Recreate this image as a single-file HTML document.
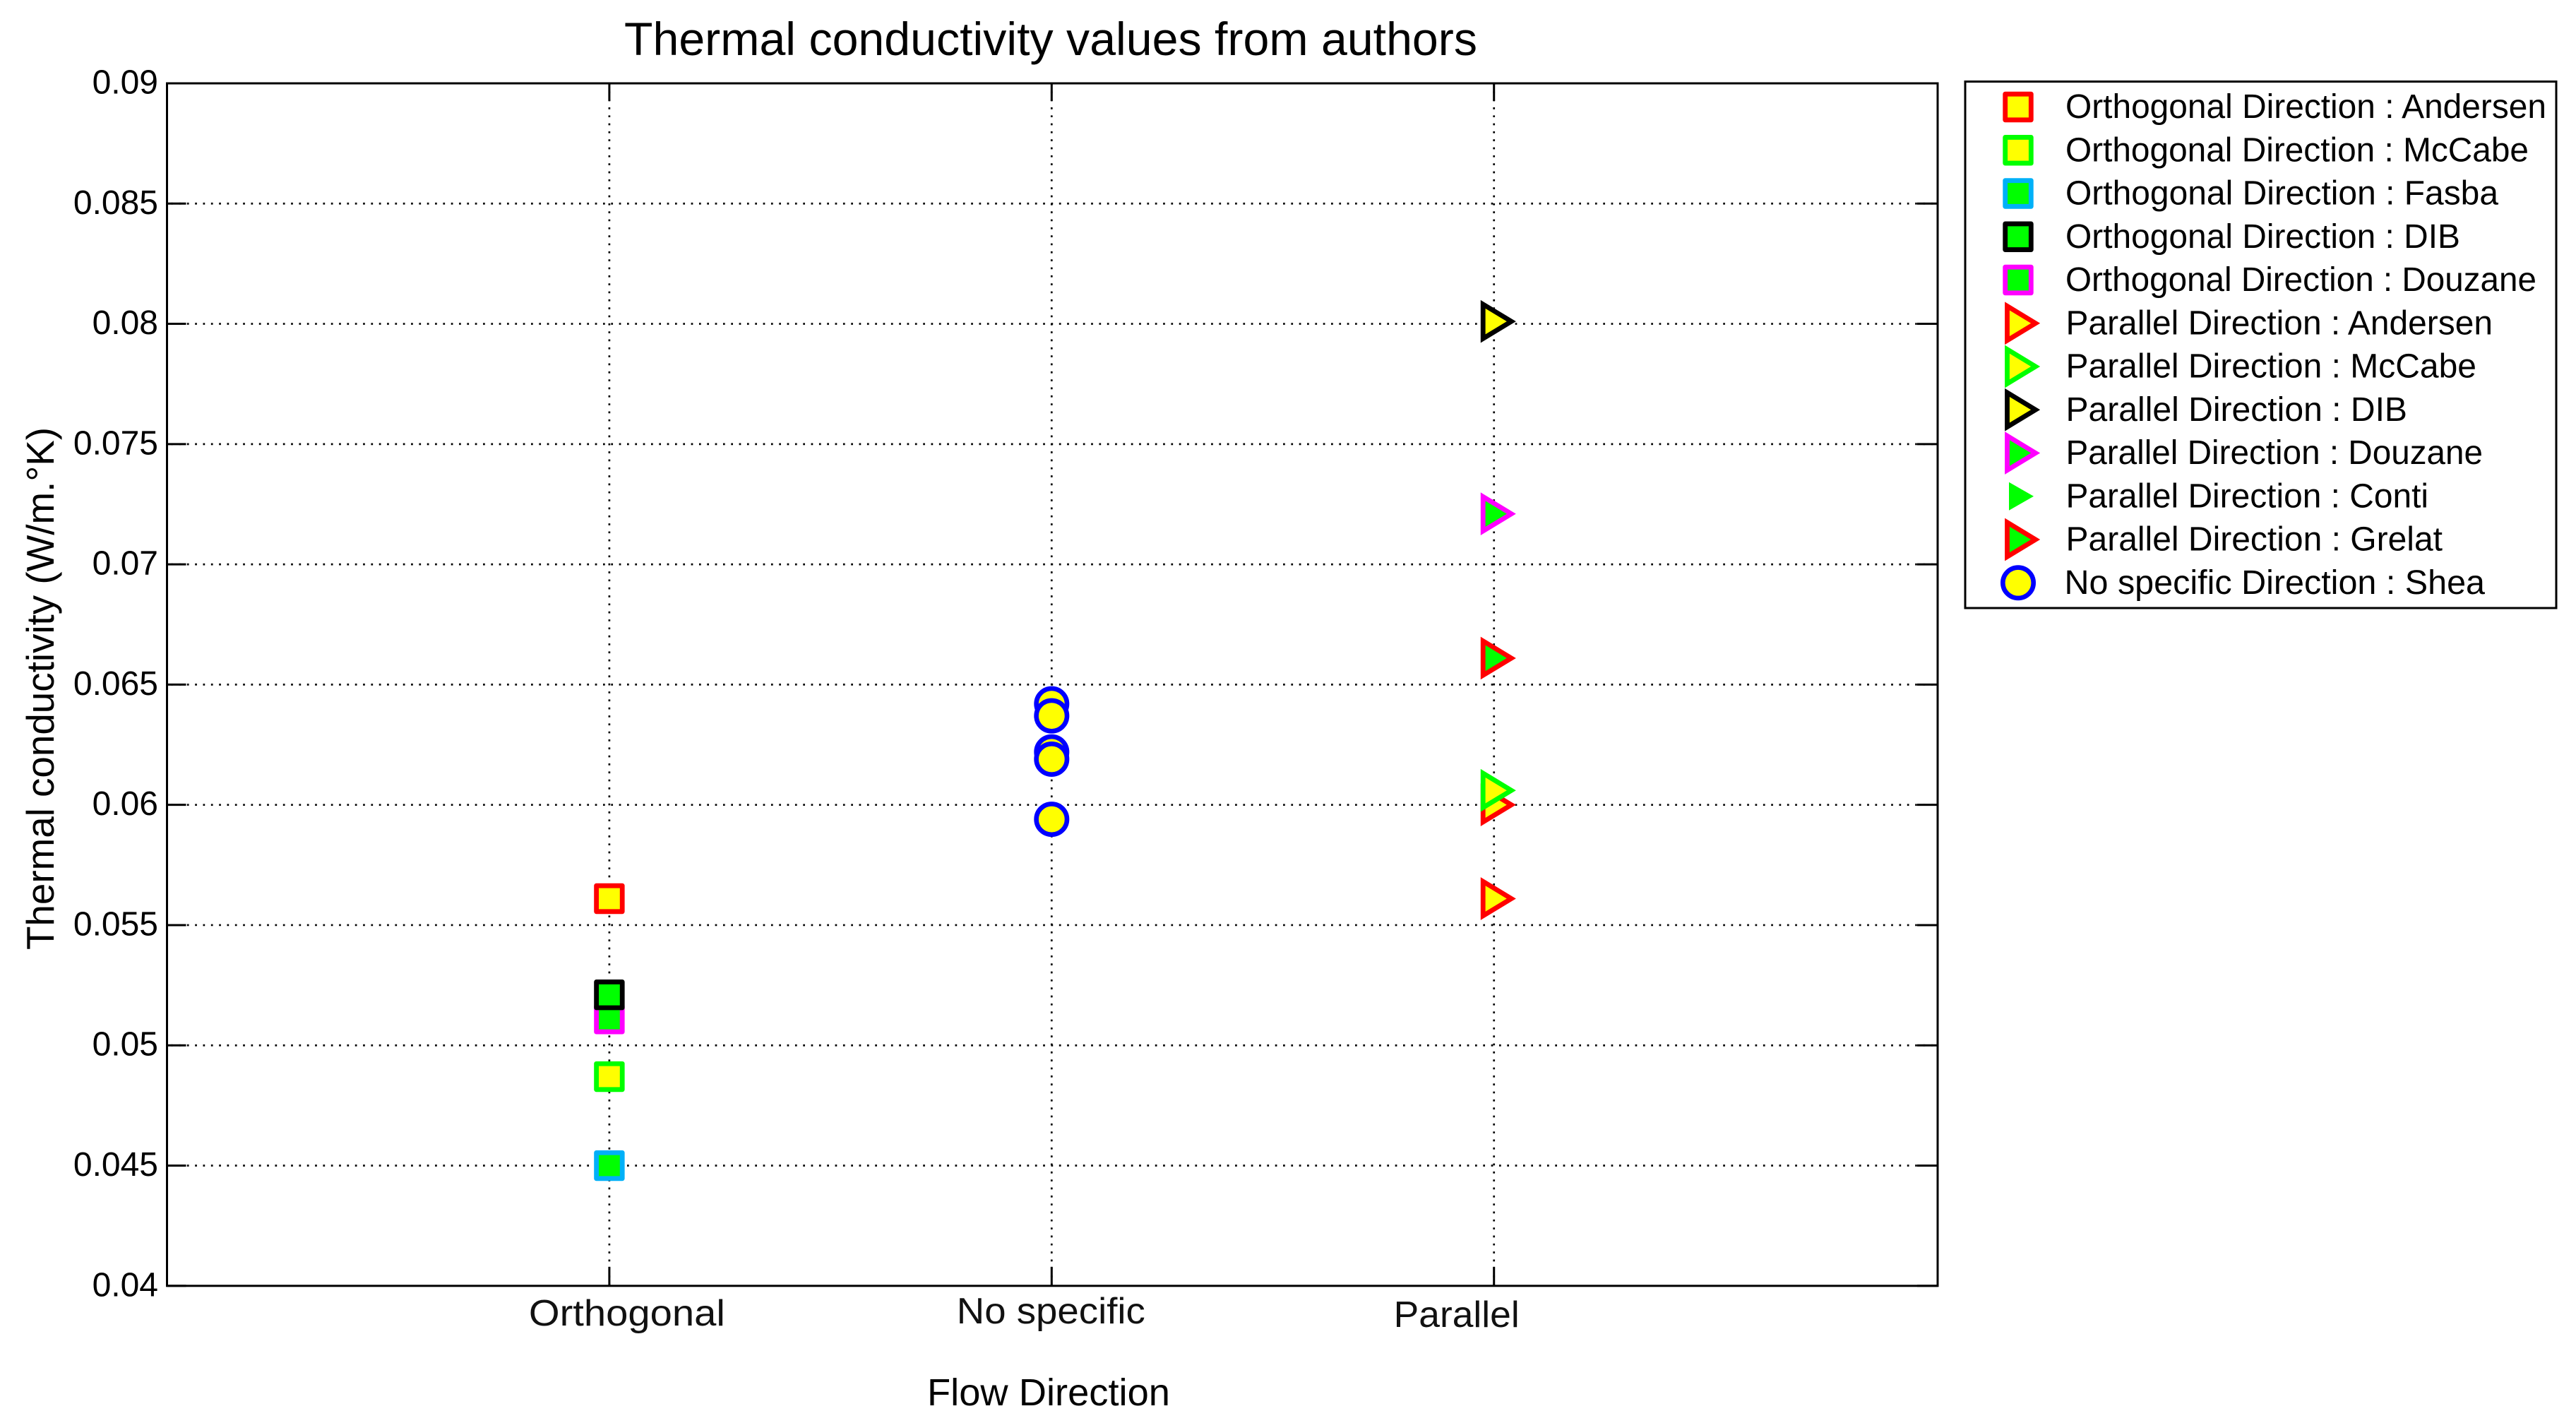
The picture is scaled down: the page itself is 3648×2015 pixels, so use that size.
<!DOCTYPE html>
<html lang="en">
<head>
<meta charset="utf-8">
<title>Thermal conductivity values from authors</title>
<style>
html,body{margin:0;padding:0;background:#fff;width:3648px;height:2015px;overflow:hidden}
svg{display:block;font-family:"Liberation Sans",Arial,sans-serif;fill:#000}
</style>
</head>
<body>
<svg id="chart" xmlns="http://www.w3.org/2000/svg" width="3648" height="2015" viewBox="0 0 3648 2015">
  <rect x="0" y="0" width="3648" height="2015" fill="#fff"/>
  <text x="884" y="78" font-size="66" textLength="1208" lengthAdjust="spacingAndGlyphs">Thermal conductivity values from authors</text>
  <text transform="translate(76,1345) rotate(-90)" font-size="54.7" textLength="740" lengthAdjust="spacingAndGlyphs">Thermal conductivity (W/m.°K)</text>
  <text x="1313" y="1990" font-size="54" textLength="344" lengthAdjust="spacingAndGlyphs">Flow Direction</text>
  <g id="grid"></g>
  <g id="axes"></g>
  <g id="marks"></g>
  <g id="legend"></g>
</svg>
<script>
const categories = ['Orthogonal', 'No specific', 'Parallel'];
const yTicks = [0.04, 0.045, 0.05, 0.055, 0.06, 0.065, 0.07, 0.075, 0.08, 0.085, 0.09];
const yTickLabels = ['0.04', '0.045', '0.05', '0.055', '0.06', '0.065', '0.07', '0.075', '0.08', '0.085', '0.09'];
const seriesNames = [
  'Orthogonal Direction : Andersen',
  'Orthogonal Direction : McCabe',
  'Orthogonal Direction : Fasba',
  'Orthogonal Direction : DIB',
  'Orthogonal Direction : Douzane',
  'Parallel Direction : Andersen',
  'Parallel Direction : McCabe',
  'Parallel Direction : DIB',
  'Parallel Direction : Douzane',
  'Parallel Direction : Conti',
  'Parallel Direction : Grelat',
  'No specific Direction : Shea'
];
const seriesCategory = [0, 0, 0, 0, 0, 2, 2, 2, 2, 2, 2, 1];
const orthogonalAndersen = [0.0561];
const orthogonalMcCabe = [0.0487];
const orthogonalFasba = [0.045];
const orthogonalDIB = [0.0521];
const orthogonalDouzane = [0.0511];
const parallelAndersen = [0.06, 0.0561];
const parallelMcCabe = [0.0606];
const parallelDIB = [0.0801];
const parallelDouzane = [0.0721];
const parallelConti = [0.0721];
const parallelGrelat = [0.0661];
const noSpecificShea = [0.0642, 0.0637, 0.0622, 0.0619, 0.0594];
const seriesValues = [
  orthogonalAndersen, orthogonalMcCabe, orthogonalFasba, orthogonalDIB, orthogonalDouzane,
  parallelAndersen, parallelMcCabe, parallelDIB, parallelDouzane, parallelConti, parallelGrelat,
  noSpecificShea
];

/* drawing order: Conti sits beneath Douzane; Douzane beneath DIB */
const drawOrder = [0, 4, 3, 1, 2, 5, 6, 7, 9, 8, 10, 11];

const NS = 'http://www.w3.org/2000/svg';
const plot = { left: 236.5, right: 2744, top: 118, bottom: 1820.8, xStep: 626.4 };
const xScale = function (v) { return plot.left + v * plot.xStep; };
const yScale = function (v) { return plot.bottom - ((v - 0.04) / 0.05) * (plot.bottom - plot.top); };

const RED = '#ff0000', LIME = '#00ff00', YEL = '#ffff00', BLK = '#000000', MAG = '#ff00ff', SKY = '#00b0f8', BLU = '#0000ff';
const look = [
  { k: 's', e: RED, f: YEL }, { k: 's', e: LIME, f: YEL }, { k: 's', e: SKY, f: LIME },
  { k: 's', e: BLK, f: LIME }, { k: 's', e: MAG, f: LIME }, { k: 't', e: RED, f: YEL },
  { k: 't', e: LIME, f: YEL }, { k: 't', e: BLK, f: YEL }, { k: 't', e: MAG, f: LIME },
  { k: 'p', e: 'none', f: LIME }, { k: 't', e: RED, f: LIME }, { k: 'c', e: BLU, f: YEL }
];

function mk(tag, attrs, parent) {
  const el = document.createElementNS(NS, tag);
  for (const key in attrs) el.setAttribute(key, attrs[key]);
  parent.appendChild(el);
  return el;
}

function markerShape(style, cx, cy, parent) {
  const base = { stroke: style.e, fill: style.f, 'stroke-width': 6.8 };
  if (style.k === 's') {
    base.x = cx - 18.3; base.y = cy - 18.3; base.width = 36.6; base.height = 36.6;
    base['stroke-linejoin'] = 'round';
    return mk('rect', base, parent);
  }
  if (style.k === 't') {
    base.points = (cx - 15.5) + ',' + (cy - 24.3) + ' ' + (cx + 24.6) + ',' + cy + ' ' + (cx - 15.5) + ',' + (cy + 24.3);
    base['stroke-miterlimit'] = 10;
    return mk('polygon', base, parent);
  }
  if (style.k === 'p') {
    base.points = (cx - 13) + ',' + (cy - 20) + ' ' + (cx + 22) + ',' + cy + ' ' + (cx - 13) + ',' + (cy + 20);
    base['stroke-width'] = 0;
    return mk('polygon', base, parent);
  }
  base.cx = cx; base.cy = cy; base.r = 21.7; base['stroke-width'] = 6.6;
  return mk('circle', base, parent);
}

function slug(text) {
  return text.toLowerCase().replace(/[^a-z0-9]+/g, '-').replace(/^-|-$/g, '');
}

const gridG = document.getElementById('grid');
const axesG = document.getElementById('axes');
const marksG = document.getElementById('marks');
const legendG = document.getElementById('legend');

/* grid lines */
yTicks.slice(1, -1).forEach(function (v) {
  const line = mk('line', { x1: plot.left + 5.7, x2: plot.right, y1: yScale(v), y2: yScale(v), stroke: '#000', 'stroke-width': 2.7, 'stroke-dasharray': '2.7 8.63' }, gridG);
  
  
});
categories.forEach(function (c, i) {
  const line = mk('line', { x1: xScale(i + 1), x2: xScale(i + 1), y1: plot.top, y2: plot.bottom, stroke: '#000', 'stroke-width': 2.7, 'stroke-dasharray': '2.7 8.63' }, gridG);
  
  
});

/* axes box */
const box = mk('rect', { x: plot.left, y: plot.top, width: plot.right - plot.left, height: plot.bottom - plot.top, fill: 'none', stroke: '#000', 'stroke-width': 3 }, axesG);



/* y ticks */
yTicks.forEach(function (v, i) {
  const y = yScale(v);
  const tl = mk('line', { x1: plot.left, x2: plot.left + 27, y1: y, y2: y, stroke: '#000', 'stroke-width': 3 }, axesG);
  
  
  const tr = mk('line', { x1: plot.right - 29, x2: plot.right, y1: y, y2: y, stroke: '#000', 'stroke-width': 3 }, axesG);
  
  
  const label = mk('text', { x: 224, y: y + 14.5, 'font-size': 48, 'text-anchor': 'end' }, axesG);
  label.textContent = yTickLabels[i];
  
  
});

/* x ticks and category labels */
const catLabelShift = [25, -1, -53];
const catLabelWidth = [278, 267, 178];
const catLabelDrop = [56, 53, 58];
categories.forEach(function (c, i) {
  const x = xScale(i + 1);
  const b = mk('line', { x1: x, x2: x, y1: plot.bottom - 27, y2: plot.bottom, stroke: '#000', 'stroke-width': 3 }, axesG);
  
  
  const t = mk('line', { x1: x, x2: x, y1: plot.top, y2: plot.top + 25, stroke: '#000', 'stroke-width': 3 }, axesG);
  
  
  const label = mk('text', { x: x + catLabelShift[i], y: plot.bottom + catLabelDrop[i], 'font-size': 52, 'text-anchor': 'middle', textLength: catLabelWidth[i], lengthAdjust: 'spacingAndGlyphs', fill: '#111' }, axesG);
  label.textContent = c;
  
  
});

/* data points */
drawOrder.forEach(function (s) {
  seriesValues[s].forEach(function (v) {
    const m = markerShape(look[s], xScale(seriesCategory[s] + 1), yScale(v), marksG);
    
    
  });
});

/* legend */
const legendRowX = [2925, 2925, 2925, 2925, 2925, 2925.5, 2925.5, 2925.5, 2925.5, 2925.5, 2925.5, 2923.5];
const legendRowEnd = [3606, 3581, 3538, 3484, 3592, 3530, 3507, 3409, 3516, 3439, 3459, 3519];
const legendBox = mk('rect', { x: 2783, y: 115.5, width: 837, height: 745.5, fill: '#fff', stroke: '#000', 'stroke-width': 3 }, legendG);


seriesNames.forEach(function (name, i) {
  const y = 151.5 + i * 61.25;
  const sw = markerShape(look[i], 2858, y, legendG);
  
  
  const t = mk('text', { x: legendRowX[i], y: y + 15.5, 'font-size': 48, textLength: legendRowEnd[i] - legendRowX[i], lengthAdjust: 'spacingAndGlyphs' }, legendG);
  t.textContent = name;
  
  
});
</script>
</body>
</html>
